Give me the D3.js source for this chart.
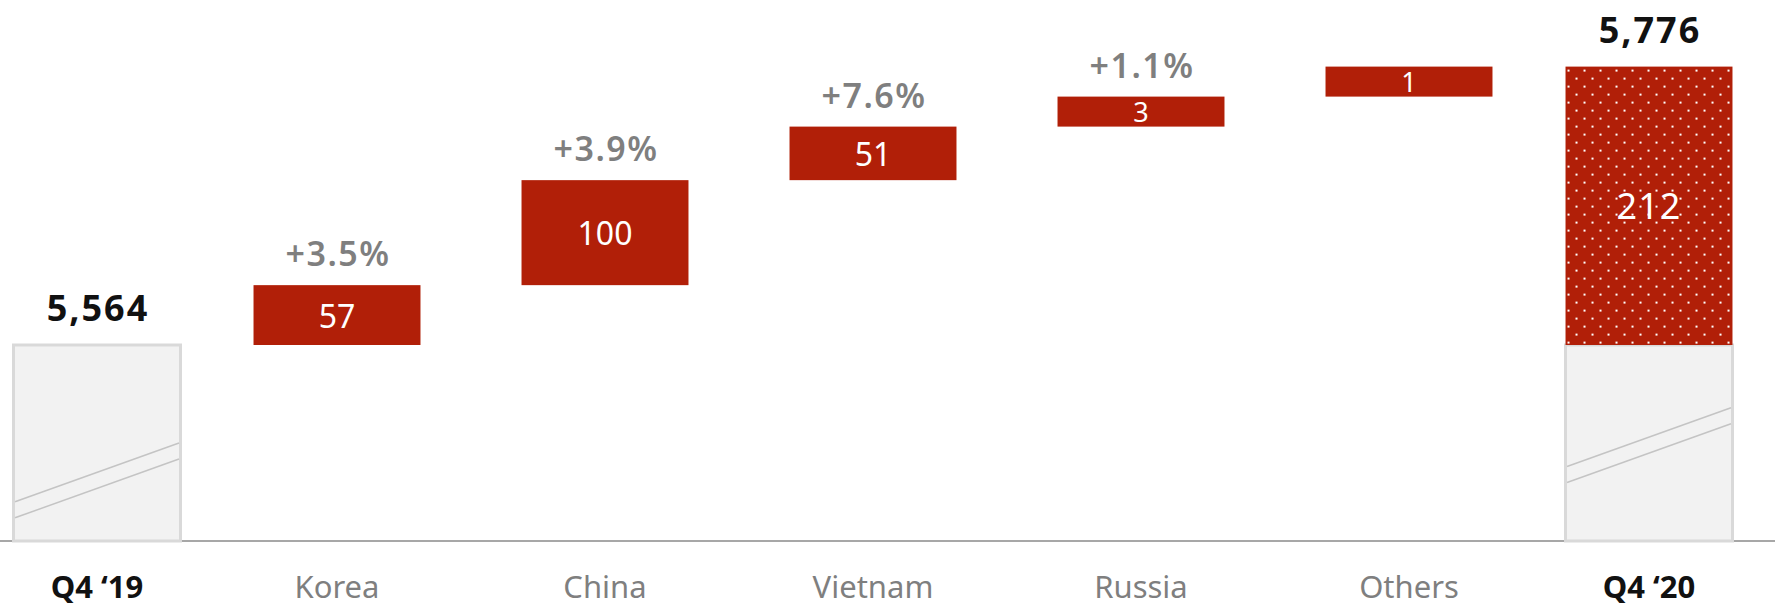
<!DOCTYPE html>
<html lang="en">
<head>
<meta charset="UTF-8">
<title>Waterfall Q4 '19 to Q4 '20</title>
<style>
  body, html { margin: 0; padding: 0; background: #fff; overflow: hidden; }
  text { font-family: "Noto Sans", "Open Sans", sans-serif; }
</style>
<script src="https://d3js.org/d3.v7.min.js"></script>
</head>
<body>
<div id="chart"></div>
<script>
// data
const startLabel = "Q4 \u201819";
const endLabel = "Q4 \u201820";
const startValue = 5564;
const endValue = 5776;
const deltaCategories = ["Korea", "China", "Vietnam", "Russia", "Others"];
const deltaValues = [57, 100, 51, 3, 1];
const growthLabels = ["+3.5%", "+3.9%", "+7.6%", "+1.1%", ""];

const width = 1775, height = 608;
const baselineY = 541;   // bottom of the chart
const breakTop = 345;    // top of the (axis-broken) base bar
const red = "#b11f08";
const grey = "#7f7f7f";

const svg = d3.select("#chart").append("svg")
    .attr("width", width)
    .attr("height", height);

// x: band scale for the deltas, totals sit one (shorter) step outside
const x = d3.scaleBand()
    .domain(deltaCategories)
    .range([203, 1543])
    .paddingInner(0.377)
    .paddingOuter(0.1885);
const totalGap = 240;
const xStart = x(deltaCategories[0]) - totalGap;
const xEnd = x(deltaCategories[deltaCategories.length - 1]) + totalGap;
const bw = x.bandwidth();

// bar heights for the deltas (not to scale with the base, axis is broken)
const h = d3.scaleLinear().domain([0, 100]).range([0, 105]);
const minBarH = 30;

let running = breakTop;
const steps = deltaCategories.map((c, i) => {
    const bh = Math.max(minBarH, h(deltaValues[i]));
    const y = running - bh;
    running = y;
    return { cat: c, value: deltaValues[i], growth: growthLabels[i], x: x(c), y: y, h: bh };
});
const endTop = running;

// dot pattern for the total increase
const defs = svg.append("defs");
const pat = defs.append("pattern")
    .attr("id", "dots")
    .attr("patternUnits", "userSpaceOnUse")
    .attr("width", 16).attr("height", 16)
    .attr("patternTransform", `translate(${xEnd},${endTop})`);
pat.append("rect").attr("width", 16).attr("height", 16).attr("fill", red);
pat.append("rect").attr("x", 2).attr("y", 3).attr("width", 2).attr("height", 2).attr("fill", "#fff");
pat.append("rect").attr("x", 10).attr("y", 11).attr("width", 2).attr("height", 2).attr("fill", "#fff");

// baseline
svg.append("line")
    .attr("x1", 0).attr("x2", width)
    .attr("y1", baselineY).attr("y2", baselineY)
    .attr("stroke", "#8a8a8a")
    .attr("stroke-width", 1.5);

// grey base bars with break marks
const bases = [
    { x: xStart, top: breakTop, brk: [0.20, 0.50] },
    { x: xEnd, top: breakTop, brk: [0.38, 0.68] }
];
bases.forEach(b => {
    const bh = baselineY - b.top;
    svg.append("rect")
        .attr("x", b.x).attr("y", b.top)
        .attr("width", bw).attr("height", bh)
        .attr("fill", "#f2f2f2")
        .attr("stroke", "#d9d9d9")
        .attr("stroke-width", 3);
    [0, 16].forEach(off => {
        svg.append("line")
            .attr("x1", b.x + 1.5).attr("x2", b.x + bw - 1.5)
            .attr("y1", baselineY - bh * b.brk[0] + off)
            .attr("y2", baselineY - bh * b.brk[1] + off)
            .attr("stroke", "#c4c4c4")
            .attr("stroke-width", 1.5);
    });
});

// total increase (dotted)
svg.append("rect")
    .attr("x", xEnd).attr("y", endTop)
    .attr("width", bw).attr("height", breakTop - endTop)
    .attr("fill", "url(#dots)");
svg.append("text")
    .attr("x", xEnd + bw / 2)
    .attr("y", (endTop + breakTop) / 2)
    .attr("text-anchor", "middle")
    .attr("dominant-baseline", "central")
    .attr("fill", "#fff")
    .attr("font-size", 36)
    .attr("letter-spacing", 1)
    .text(endValue - startValue);

// delta bars
const g = svg.append("g");
g.selectAll("rect.step")
    .data(steps)
    .enter().append("rect")
    .attr("class", "step")
    .attr("x", d => d.x)
    .attr("y", d => d.y)
    .attr("width", bw)
    .attr("height", d => d.h)
    .attr("fill", red);

g.selectAll("text.val")
    .data(steps)
    .enter().append("text")
    .attr("class", "val")
    .attr("x", d => d.x + bw / 2)
    .attr("y", d => d.y + d.h / 2)
    .attr("text-anchor", "middle")
    .attr("dominant-baseline", "central")
    .attr("fill", "#fff")
    .attr("font-size", d => Math.min(32, d.h * 0.9))
    .text(d => d.value);

g.selectAll("text.growth")
    .data(steps.filter(d => d.growth))
    .enter().append("text")
    .attr("class", "growth")
    .attr("x", d => d.x + bw / 2 + 1)
    .attr("y", d => d.y - 19)
    .attr("text-anchor", "middle")
    .attr("fill", grey)
    .attr("font-size", 34)
    .attr("font-weight", 600)
    .attr("letter-spacing", 1.5)
    .text(d => d.growth);

// total value labels
const fmt = d3.format(",");
[[xStart, breakTop, startValue], [xEnd, endTop, endValue]].forEach(([bx, top, v]) => {
    svg.append("text")
        .attr("x", bx + bw / 2 + 1)
        .attr("y", top - 24)
        .attr("text-anchor", "middle")
        .attr("fill", "#111")
        .attr("font-size", 36)
        .attr("font-weight", 700)
        .attr("letter-spacing", 2)
        .text(fmt(v));
});

// category labels
const catLabels = [{ t: startLabel, x: xStart, bold: true }]
    .concat(deltaCategories.map(c => ({ t: c, x: x(c), bold: false })))
    .concat([{ t: endLabel, x: xEnd, bold: true }]);
svg.selectAll("text.cat")
    .data(catLabels)
    .enter().append("text")
    .attr("class", "cat")
    .attr("x", d => d.x + bw / 2)
    .attr("y", 598)
    .attr("text-anchor", "middle")
    .attr("font-size", 31)
    .attr("font-weight", d => d.bold ? 700 : 400)
    .attr("fill", d => d.bold ? "#111" : grey)
    .text(d => d.t);
</script>
</body>
</html>
